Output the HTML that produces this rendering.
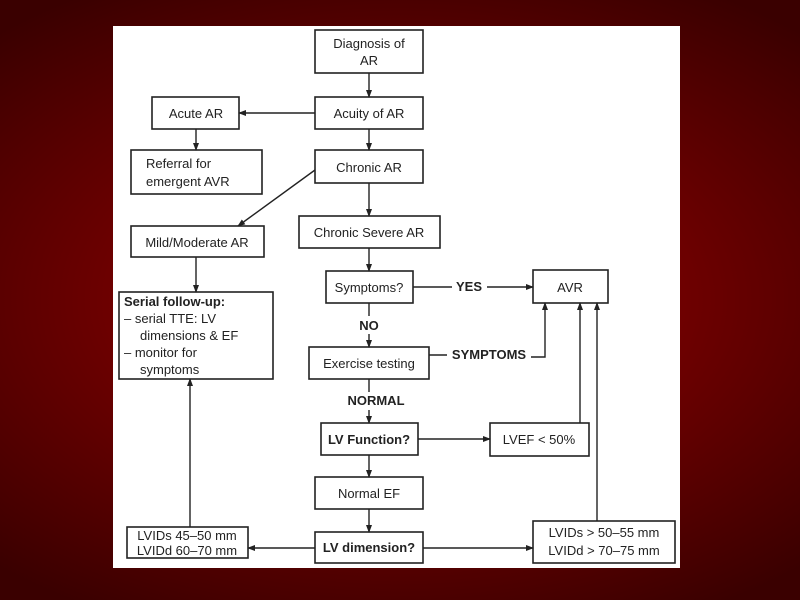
<!DOCTYPE html>
<html><head><style>
html,body{margin:0;padding:0;}
body{width:800px;height:600px;overflow:hidden;background:radial-gradient(ellipse 75% 60% at 50% 50%,#8a0000 0%,#700000 45%,#3a0000 100%);}
svg{position:absolute;left:0;top:0;}
text{font-family:"Liberation Sans",sans-serif;font-size:13px;fill:#222;}
.b{font-weight:bold;}
rect{fill:#fff;stroke:#222;stroke-width:1.6;}
line,polyline{stroke:#222;stroke-width:1.4;fill:none;}
</style></head><body>
<svg width="800" height="600" viewBox="0 0 800 600">
<defs><marker id="a" markerWidth="8" markerHeight="6" refX="7" refY="3" orient="auto" markerUnits="userSpaceOnUse"><path d="M0,0 L8,3 L0,6 Z" fill="#222"/></marker></defs>
<rect x="113" y="26" width="567" height="542" style="fill:#fff;stroke:none"/>
<!-- boxes -->
<rect x="315" y="30" width="108" height="43"/>
<text x="369" y="48" text-anchor="middle">Diagnosis of</text><text x="369" y="65" text-anchor="middle">AR</text>
<rect x="315" y="97" width="108" height="32"/><text x="369" y="118" text-anchor="middle">Acuity of AR</text>
<rect x="152" y="97" width="87" height="32"/><text x="196" y="118" text-anchor="middle">Acute AR</text>
<rect x="131" y="150" width="131" height="44"/><text x="146" y="168">Referral for</text><text x="146" y="186">emergent  AVR</text>
<rect x="315" y="150" width="108" height="33"/><text x="369" y="172" text-anchor="middle">Chronic AR</text>
<rect x="299" y="216" width="141" height="32"/><text x="369" y="237" text-anchor="middle">Chronic Severe AR</text>
<rect x="131" y="226" width="133" height="31"/><text x="197" y="247" text-anchor="middle">Mild/Moderate AR</text>
<rect x="119" y="292" width="154" height="87"/>
<text x="124" y="306" class="b">Serial follow-up:</text>
<text x="124" y="323">–  serial TTE: LV</text>
<text x="140" y="340">dimensions &amp; EF</text>
<text x="124" y="357">–  monitor for</text>
<text x="140" y="374">symptoms</text>
<rect x="326" y="271" width="87" height="32"/><text x="369" y="292" text-anchor="middle">Symptoms?</text>
<rect x="533" y="270" width="75" height="33"/><text x="570" y="292" text-anchor="middle">AVR</text>
<rect x="309" y="347" width="120" height="32"/><text x="369" y="368" text-anchor="middle">Exercise testing</text>
<rect x="321" y="423" width="97" height="32"/><text x="369" y="444" text-anchor="middle" class="b">LV Function?</text>
<rect x="490" y="423" width="99" height="33"/><text x="539" y="444" text-anchor="middle">LVEF &lt; 50%</text>
<rect x="315" y="477" width="108" height="32"/><text x="369" y="498" text-anchor="middle">Normal EF</text>
<rect x="315" y="532" width="108" height="31"/><text x="369" y="552" text-anchor="middle" class="b">LV dimension?</text>
<rect x="127" y="527" width="121" height="31"/><text x="187" y="540" text-anchor="middle">LVIDs 45–50 mm</text><text x="187" y="555" text-anchor="middle">LVIDd 60–70 mm</text>
<rect x="533" y="521" width="142" height="42"/><text x="604" y="537" text-anchor="middle">LVIDs &gt; 50–55 mm</text><text x="604" y="555" text-anchor="middle">LVIDd &gt; 70–75 mm</text>
<!-- connectors -->
<line x1="369" y1="73" x2="369" y2="97" marker-end="url(#a)"/>
<line x1="315" y1="113" x2="239" y2="113" marker-end="url(#a)"/>
<line x1="196" y1="129" x2="196" y2="150" marker-end="url(#a)"/>
<line x1="369" y1="129" x2="369" y2="150" marker-end="url(#a)"/>
<line x1="315" y1="170" x2="238" y2="226" marker-end="url(#a)"/>
<line x1="369" y1="183" x2="369" y2="216" marker-end="url(#a)"/>
<line x1="196" y1="257" x2="196" y2="292" marker-end="url(#a)"/>
<line x1="369" y1="248" x2="369" y2="271" marker-end="url(#a)"/>
<line x1="413" y1="287" x2="452" y2="287"/><text x="469" y="291" text-anchor="middle" class="b">YES</text>
<line x1="487" y1="287" x2="533" y2="287" marker-end="url(#a)"/>
<line x1="369" y1="303" x2="369" y2="316"/><text x="369" y="330" text-anchor="middle" class="b">NO</text>
<line x1="369" y1="334" x2="369" y2="347" marker-end="url(#a)"/>
<line x1="429" y1="355" x2="447" y2="355"/><text x="489" y="359" text-anchor="middle" class="b">SYMPTOMS</text>
<polyline points="531,357 545,357 545,303" marker-end="url(#a)"/>
<line x1="369" y1="379" x2="369" y2="392"/><text x="376" y="405" text-anchor="middle" class="b">NORMAL</text>
<line x1="369" y1="410" x2="369" y2="423" marker-end="url(#a)"/>
<line x1="418" y1="439" x2="490" y2="439" marker-end="url(#a)"/>
<line x1="580" y1="423" x2="580" y2="303" marker-end="url(#a)"/>
<line x1="369" y1="455" x2="369" y2="477" marker-end="url(#a)"/>
<line x1="369" y1="509" x2="369" y2="532" marker-end="url(#a)"/>
<line x1="315" y1="548" x2="248" y2="548" marker-end="url(#a)"/>
<line x1="423" y1="548" x2="533" y2="548" marker-end="url(#a)"/>
<line x1="597" y1="521" x2="597" y2="303" marker-end="url(#a)"/>
<line x1="190" y1="527" x2="190" y2="379" marker-end="url(#a)"/>
</svg>
</body></html>
